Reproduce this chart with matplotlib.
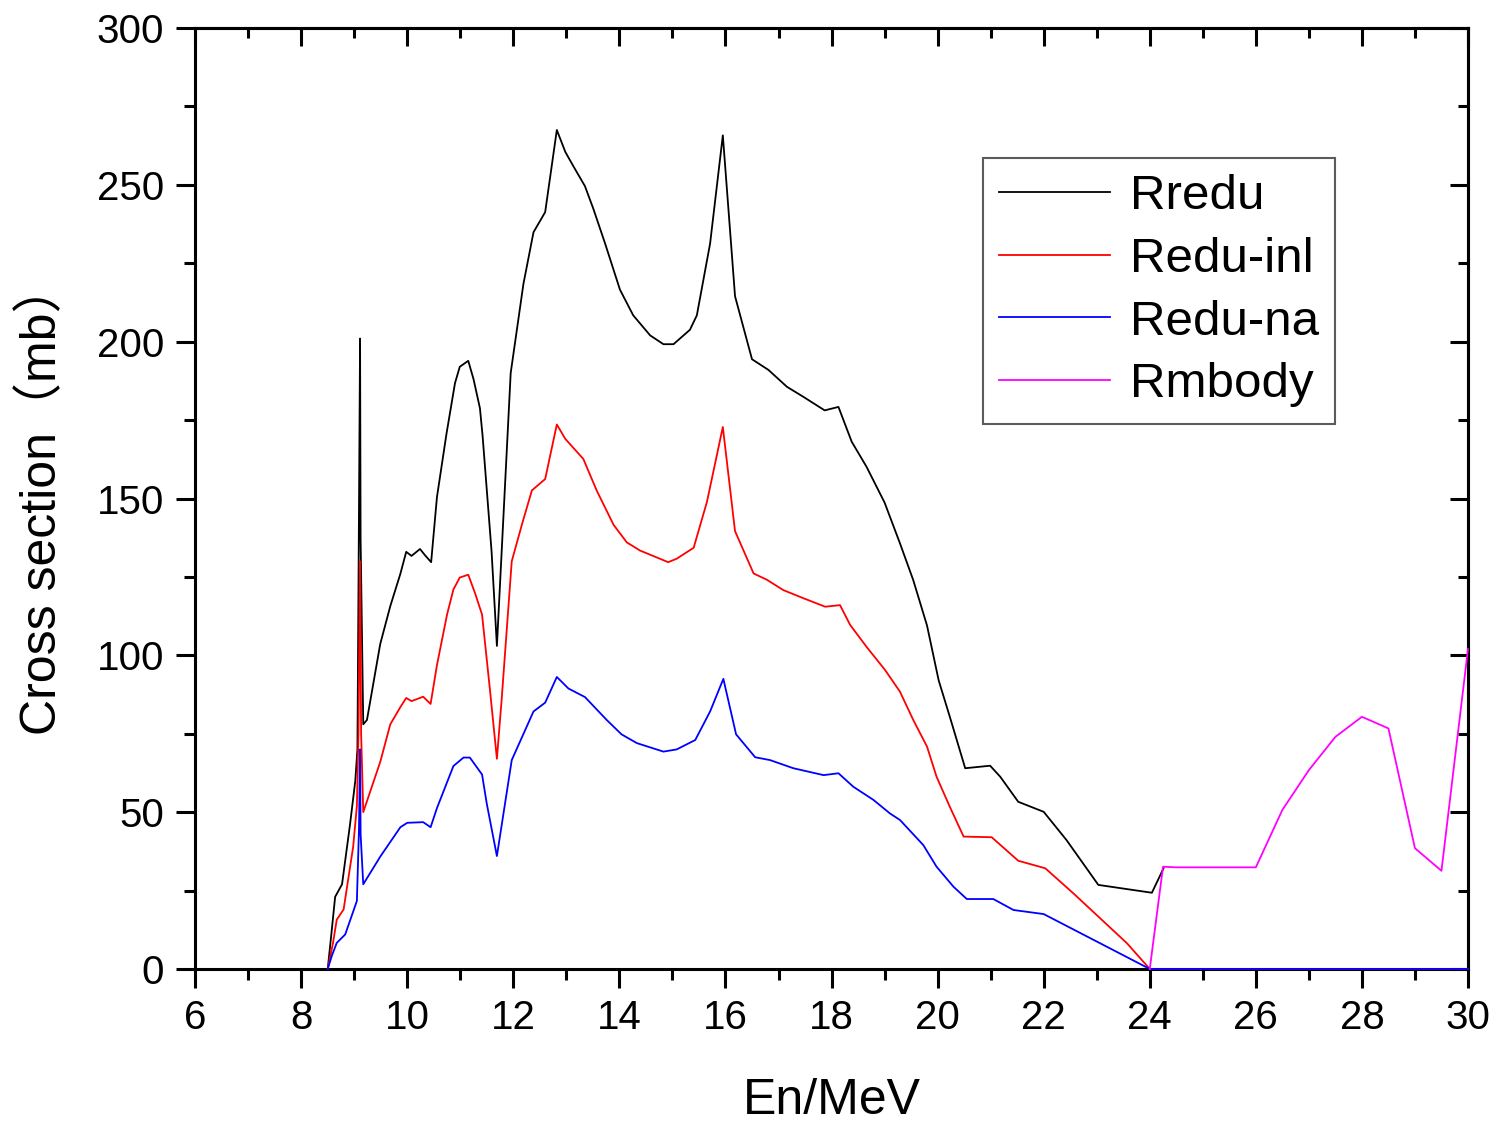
import matplotlib
matplotlib.use("Agg")
import matplotlib.pyplot as plt
from matplotlib.ticker import MultipleLocator

# Neutron energy (MeV) and cross sections (mb) for each reaction channel
e_redu = [8.5, 8.56, 8.64, 8.77, 8.92, 9.02, 9.06, 9.08, 9.11, 9.12, 9.17, 9.24,
          9.49, 9.68, 9.87, 9.98, 10.08, 10.24, 10.33, 10.45, 10.56, 10.74, 10.9,
          10.99, 11.15, 11.25, 11.37, 11.42, 11.59, 11.69, 11.95, 12.19, 12.38,
          12.6, 12.82, 12.98, 13.13, 13.35, 13.51, 13.73, 14.01, 14.26, 14.58,
          14.83, 15.02, 15.33, 15.46, 15.71, 15.95, 16.18, 16.5, 16.81, 17.16,
          17.47, 17.87, 18.13, 18.38, 18.66, 19.0, 19.29, 19.54, 19.8, 20.02,
          20.23, 20.52, 20.99, 21.18, 21.52, 22.0, 22.43, 23.03, 24.04, 24.26]
rredu = [0, 9.7, 23, 27, 46, 60, 70, 121, 201, 137, 78, 79.4,
         103.6, 115.7, 126, 133, 131.7, 133.9, 132, 129.7, 150.5, 170.7, 186.8,
         192, 193.9, 188, 178.8, 170, 133, 103, 190, 218.4, 234.9,
         241.3, 267.5, 260.5, 256, 249.6, 242.3, 231.3, 216.6, 208.4, 202,
         199.2, 199.2, 203.8, 208.4, 231.3, 265.8, 214.5, 194.4, 191, 185.6,
         182.4, 178.1, 179.2, 168.1, 160.1, 148.7, 135.7, 124, 109.5, 92,
         80.4, 64, 64.8, 61.3, 53.3, 50.1, 41.1, 26.8, 24.3, 32.1]

e_inl = [8.5, 8.6, 8.67, 8.8, 8.98, 9.05, 9.08, 9.11, 9.13, 9.17, 9.49, 9.68,
         9.87, 9.98, 10.08, 10.3, 10.44, 10.56, 10.75, 10.87, 10.99, 11.15,
         11.28, 11.41, 11.56, 11.69, 11.78, 11.97, 12.16, 12.35, 12.6, 12.82,
         12.98, 13.32, 13.57, 13.89, 14.14, 14.39, 14.92, 15.08, 15.4, 15.65,
         15.95, 16.18, 16.53, 16.78, 17.09, 17.47, 17.88, 18.16, 18.35, 18.66,
         19.01, 19.29, 19.54, 19.8, 19.98, 20.23, 20.49, 21.02, 21.52, 22.03,
         22.56, 23.57, 24.0, 30.0]
redu_inl = [0, 8.3, 15.7, 19, 39, 52, 75, 130, 75, 50, 66, 78,
            83.5, 86.4, 85.4, 86.8, 84.5, 96.9, 113, 121, 124.8, 125.7,
            119.7, 113, 88.8, 67, 86, 130, 141.6, 152.6, 156.2, 173.6,
            169, 162.6, 152.6, 141.6, 136, 133.4, 129.7, 130.8, 134.3, 148.9,
            172.8, 139.6, 126.1, 124.1, 120.8, 118.2, 115.5, 116, 109.7, 102.7,
            95.3, 88.4, 79.4, 70.9, 61.3, 51.7, 42.2, 42, 34.5, 32.1,
            24.1, 8.2, 0, 0]

e_na = [8.5, 8.58, 8.67, 8.83, 9.05, 9.09, 9.11, 9.12, 9.17, 9.49, 9.87, 10.0,
        10.3, 10.44, 10.56, 10.87, 11.06, 11.18, 11.41, 11.5, 11.69, 11.97,
        12.38, 12.6, 12.82, 13.04, 13.35, 13.76, 14.04, 14.33, 14.83, 15.08,
        15.43, 15.71, 15.96, 16.2, 16.56, 16.84, 17.28, 17.85, 18.13, 18.41,
        18.79, 19.1, 19.29, 19.73, 19.98, 20.3, 20.55, 21.05, 21.43, 22.0,
        24.0, 30.0]
redu_na = [0, 4.3, 8.3, 11, 21.7, 45, 70, 43, 27, 35.8, 45.2, 46.6,
           46.8, 45.2, 51.3, 64.7, 67.4, 67.4, 62, 52.6, 36, 66.6,
           82.1, 84.9, 93.1, 89.4, 86.7, 79.4, 74.8, 72, 69.3, 70,
           73, 82.1, 92.5, 74.8, 67.5, 66.6, 64, 61.8, 62.4, 58.1,
           53.9, 49.6, 47.5, 39.5, 32.6, 26.2, 22.3, 22.3, 18.8, 17.5,
           0, 0]

e_mbody = [24.0, 24.25, 24.5, 26.0, 26.5, 27.0, 27.5, 28.0, 28.5, 29.0, 29.5, 30.0]
rmbody = [0, 32.6, 32.4, 32.4, 50.7, 63.4, 74, 80.4, 76.7, 38.5, 31.3, 102]

series = [
    ("Rredu", e_redu, rredu, "#000000"),
    ("Redu-inl", e_inl, redu_inl, "#ff0000"),
    ("Redu-na", e_na, redu_na, "#0000ff"),
    ("Rmbody", e_mbody, rmbody, "#ff00ff"),
]

x_ticks = list(range(6, 31, 2))
y_ticks = list(range(0, 301, 50))

plt.rcParams["font.family"] = ["Liberation Sans", "Noto Sans CJK SC", "DejaVu Sans"]

fig = plt.figure(figsize=(15.01, 11.22), dpi=100)
ax = fig.add_axes([0.130, 0.1364, 0.848, 0.8386])

for name, xs, ys, col in series:
    ax.plot(xs, ys, color=col, lw=1.3, label=name, zorder=3, clip_on=False)

ax.set_xlim(6, 30)
ax.set_ylim(0, 300)
ax.set_xticks(x_ticks)
ax.set_yticks(y_ticks)
ax.xaxis.set_minor_locator(MultipleLocator(1))
ax.yaxis.set_minor_locator(MultipleLocator(25))

for sp in ax.spines.values():
    sp.set_linewidth(2.2)
    sp.set_zorder(2.5)

ax.tick_params(which="major", direction="out", length=13.5, width=2.2,
               labelsize=29, pad=8, top=False, right=False)
ax.tick_params(which="minor", direction="out", length=8, width=2.2,
               top=False, right=False)
ax.tick_params(axis="y", which="major", pad=9)

# inward ticks on the top and right frame edges
top = ax.secondary_xaxis("top")
top.set_xticks(x_ticks)
top.xaxis.set_minor_locator(MultipleLocator(1))
top.tick_params(which="major", direction="in", length=13, width=2.2, labeltop=False)
top.tick_params(which="minor", direction="in", length=7, width=2.2)
top.spines["top"].set_linewidth(2.2)

right = ax.secondary_yaxis("right")
right.set_yticks(y_ticks)
right.yaxis.set_minor_locator(MultipleLocator(25))
right.tick_params(which="major", direction="in", length=13, width=2.2, labelright=False)
right.tick_params(which="minor", direction="in", length=7, width=2.2)
right.spines["right"].set_linewidth(2.2)

ax.set_xlabel("En/MeV", fontsize=36, labelpad=30)
ax.set_ylabel("Cross section（mb）", fontsize=36, labelpad=22)

leg = ax.legend(loc="upper left", bbox_to_anchor=(0.619, 0.862), borderaxespad=0,
                fontsize=35.5, frameon=True, fancybox=False, handlelength=2.25,
                handletextpad=0.4, labelspacing=0.36, borderpad=0.33)
leg.get_frame().set_edgecolor("#333333")
leg.get_frame().set_linewidth(1.5)
for h in leg.get_lines():
    h.set_linewidth(1.3)

fig.savefig("out.png", dpi=100)
